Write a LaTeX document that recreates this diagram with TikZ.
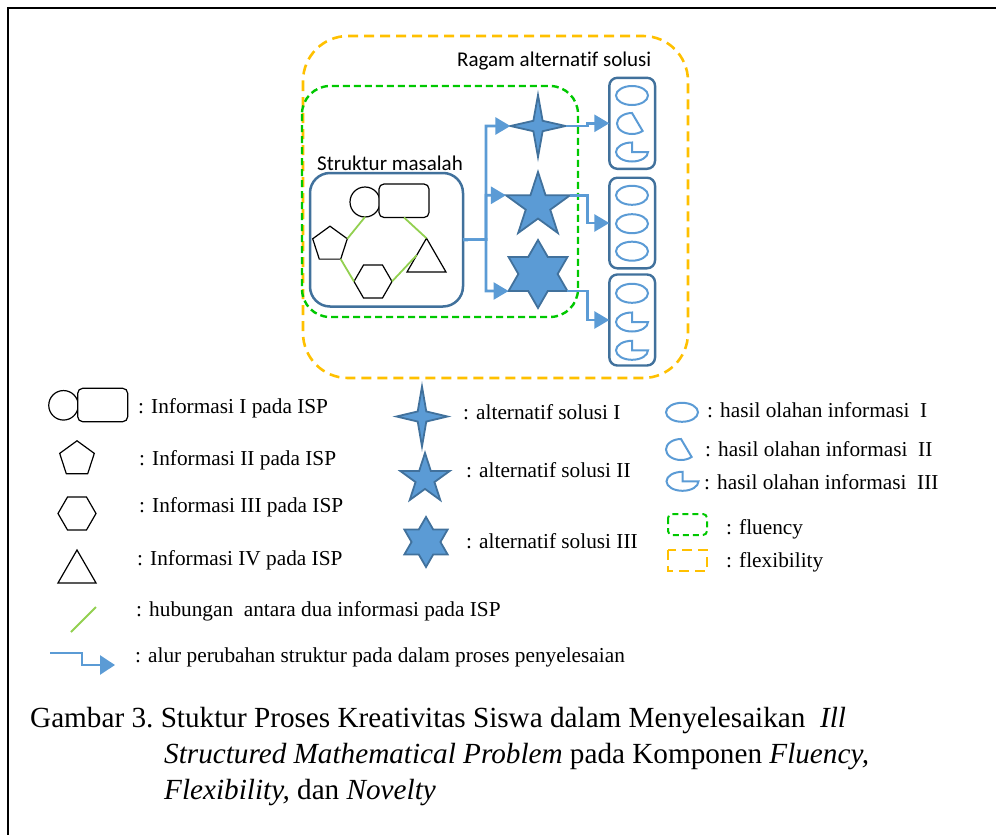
\documentclass[tikz,border=0pt]{standalone}
\usepackage{fontspec}
\setmainfont{Liberation Serif}[Ligatures={NoCommon}]
\newfontfamily\calfont{Carlito}[Ligatures={NoCommon,NoContextual,NoRequired}]
\usetikzlibrary{shapes.geometric,arrows.meta,calc}
\definecolor{bluefill}{HTML}{5B9BD5}
\definecolor{bluedark}{HTML}{41719C}
\definecolor{relgreen}{HTML}{92D050}
\definecolor{flugreen}{HTML}{00C800}
\definecolor{flexorange}{HTML}{FFC000}
\tikzset{
  hasil/.style={draw=bluefill, line width=2pt},
  pics/hasilA/.style={code={\draw[hasil] (0,0) ellipse [x radius=16, y radius=9.5];}},
  pics/hasilB/.style={code={\draw[hasil] (-45:15 and 10.5) arc[start angle=-45, end angle=-270, x radius=15, y radius=10.5] -- cycle;}},
  pics/hasilC/.style={code={\draw[hasil] (0,0) -- (16,0) arc[start angle=0, end angle=-270, x radius=16, y radius=9.5] -- cycle;}},
}
\begin{document}
\begin{tikzpicture}[x=1pt,y=1pt,
  infoshp/.style={draw=black, line width=1.2pt, inner sep=0pt, outer sep=0pt},
  relline/.style={draw=relgreen, line width=1.8pt},
  starshp/.style={star, draw=bluedark, fill=bluefill, line width=1.8pt, inner sep=0pt, outer sep=0pt},
  flow/.style={draw=bluefill, line width=2.6pt, -{Triangle[length=15pt,width=17pt]}},
  outbox/.style={draw=bluedark, line width=2.4pt, rounded corners=8pt, minimum width=45.7pt, inner sep=0pt, outer sep=0pt},
  fluen/.style={draw=flugreen, line width=2.4pt, dash pattern=on 7pt off 4pt},
  flexi/.style={draw=flexorange, line width=2.6pt, dash pattern=on 10pt off 6pt},
  legtxt/.style={anchor=base west, inner sep=0pt, font=\fontsize{21.3}{25}\selectfont},
  sanstxt/.style={anchor=base west, inner sep=0pt, font=\calfont\fontsize{21}{25}\selectfont},
  captxt/.style={anchor=base west, inner sep=0pt, font=\fontsize{29.2}{36}\selectfont},
]
\useasboundingbox (0,0) rectangle (996,-835);
% frame
\coordinate (fr1) at (996,-7.5);
\coordinate (fr2) at (8,-7.5);
\coordinate (fr3) at (8,-835);
\draw[line width=2pt] (fr1) -- (fr2) -- (fr3);

% dashed regions
\draw[flexi, rounded corners=45pt] (303,-36) rectangle (688,-378);
\draw[fluen, rounded corners=28pt] (302,-86) rectangle (578,-317);

% structure box
\node[draw=bluedark, line width=2.5pt, rounded corners=20pt, minimum width=153pt, minimum height=133.5pt, inner sep=0pt, outer sep=0pt] (sm) at (386.5,-239.75) {};
\node[sanstxt] (tsm) at (317,-170) {Struktur masalah};
\node[sanstxt] (trg) at (457,-66.7) {Ragam alternatif solusi};

% info shapes
\node[infoshp, circle, minimum size=30pt] (circ) at (365,-202) {};
\node[infoshp, rectangle, rounded corners=5pt, minimum width=50pt, minimum height=33.5pt, fill=white] (rect) at (404,-200.75) {};
\node[infoshp, regular polygon, regular polygon sides=5, minimum size=36.4pt] (pent) at (330,-244.4) {};
\node[infoshp, regular polygon, regular polygon sides=6, minimum size=38pt] (hex) at (373,-281.5) {};
\node[infoshp, regular polygon, regular polygon sides=3, minimum size=45pt] (tri) at (426.5,-260.75) {};
\draw[relline] (circ.south) -- (pent.18);
\draw[relline] (rect.south) -- (tri.90);
\draw[relline] (pent.-54) -- (hex.180);
\draw[relline] (hex.0) -- (tri.150);

% stars
\begin{scope}[shift={(538,-126)}, xscale=0.89]
\node[starshp, star points=4, star point ratio=4.2, minimum size=62pt, transform shape] (s1) at (0,0) {};
\end{scope}
\node[starshp, star points=5, star point ratio=2.618, minimum size=67.4pt] (s2) at (538,-205.7) {};
\node[starshp, star points=6, star point ratio=1.732, minimum size=68pt] (s3) at (538,-274) {};

% output boxes
\node[outbox, minimum height=91pt] (box1) at (632.2,-123.3) {};
\node[outbox, minimum height=90.6pt] (box2) at (632.2,-223) {};
\node[outbox, minimum height=91pt] (box3) at (632.2,-320) {};
\pic at (632,-95.5) {hasilA};
\pic at (632,-123.5) {hasilB};
\pic at (632,-152) {hasilC};
\pic at (632,-195.3) {hasilA};
\pic at (632,-223.7) {hasilA};
\pic at (632,-251.2) {hasilA};
\pic at (632,-293.3) {hasilA};
\pic at (632,-322) {hasilC};
\pic at (632,-350.3) {hasilC};

% flows
\coordinate (jn) at (486,-239.5);
\draw[flow] (sm.east) -- (jn) |- (s1.outer point 2);
\draw[flow] (sm.east) -- (jn) |- (s2.outer point 2);
\draw[flow] (sm.east) -- (jn) |- (s3.outer point 3);
\draw[flow] (s1.outer point 4) -| ([xshift=-22pt]box1.west) -- (box1.west);
\draw[flow] (s2.outer point 5) -| ([xshift=-22pt]box2.west) -- (box2.west);
\draw[flow] (s3.outer point 5) -| ([xshift=-22pt]box3.west) -- (box3.west);

% legend left
\node[infoshp, circle, minimum size=29.5pt] (lcirc) at (63.5,-405.3) {};
\node[infoshp, rectangle, rounded corners=5pt, minimum width=50pt, minimum height=33.4pt, fill=white] (lrect) at (102.7,-405) {};
\node[infoshp, regular polygon, regular polygon sides=5, minimum size=36.4pt] (lpent) at (77,-459) {};
\node[infoshp, regular polygon, regular polygon sides=6, minimum size=38pt] (lhex) at (77,-513.5) {};
\node[infoshp, regular polygon, regular polygon sides=3, minimum size=44pt] (ltri) at (77,-572) {};
\coordinate (lg1) at (71,-632);
\coordinate (lg2) at (96,-607);
\draw[relline] (lg1) -- (lg2);
\coordinate (la1) at (50,-653);
\coordinate (la2) at (115,-665);
\draw[flow, -{Triangle[length=15pt,width=19pt]}] (la1) -- ++(32,0) |- (la2);
\node[legtxt] (l1) at (138,-413.3) {: Informasi I pada ISP};
\node[legtxt] (l2) at (139,-465.7) {: Informasi II pada ISP};
\node[legtxt] (l3) at (139,-512.7) {: Informasi III pada ISP};
\node[legtxt] (l4) at (137,-565) {: Informasi IV pada ISP};
\node[legtxt] (l5) at (136,-616) {: hubungan\ \ antara dua informasi pada ISP};
\node[legtxt] (l6) at (135,-662) {: alur perubahan struktur pada dalam proses penyelesaian};

% legend middle
\begin{scope}[shift={(422,-416.5)}, xscale=0.85]
\node[starshp, star points=4, star point ratio=4.2, minimum size=60pt, transform shape] (ls1) at (0,0) {};
\end{scope}
\node[starshp, star points=5, star point ratio=2.618, minimum size=52pt] (ls2) at (425,-479) {};
\node[starshp, star points=6, star point ratio=1.732, minimum size=50pt] (ls3) at (426,-542) {};
\node[legtxt] (m1) at (463,-419.3) {: alternatif solusi I};
\node[legtxt] (m2) at (466,-477.7) {: alternatif solusi II};
\node[legtxt] (m3) at (466,-548.3) {: alternatif solusi III};

% legend right
\pic at (682,-412.3) {hasilA};
\pic at (681,-449.5) {hasilB};
\pic at (682.5,-481.3) {hasilC};
\draw[fluen, rounded corners=4pt, line width=2pt, dash pattern=on 6pt off 4pt] (668,-514) rectangle (707,-535);
\draw[flexi, line width=2pt] (668,-550) rectangle (707,-571);
\node[legtxt] (r1) at (707,-417.3) {: hasil olahan informasi\ \ I};
\node[legtxt] (r2) at (705,-456) {: hasil olahan informasi\ \ II};
\node[legtxt] (r3) at (704,-489.3) {: hasil olahan informasi\ \ III};
\node[legtxt] (r4) at (726,-534) {: fluency};
\node[legtxt] (r5) at (726,-567.7) {: flexibility};

% caption
\node[captxt] (c1) at (30,-727) {Gambar 3.\ Stuktur Proses Kreativitas Siswa dalam Menyelesaikan\ \ \textit{Ill}};
\node[captxt] (c2) at (164,-763) {\textit{Structured Mathematical Problem} pada Komponen \textit{Fluency,}};
\node[captxt] (c3) at (164,-799) {\textit{Flexibility,} dan \textit{Novelty}};
\end{tikzpicture}
\end{document}
